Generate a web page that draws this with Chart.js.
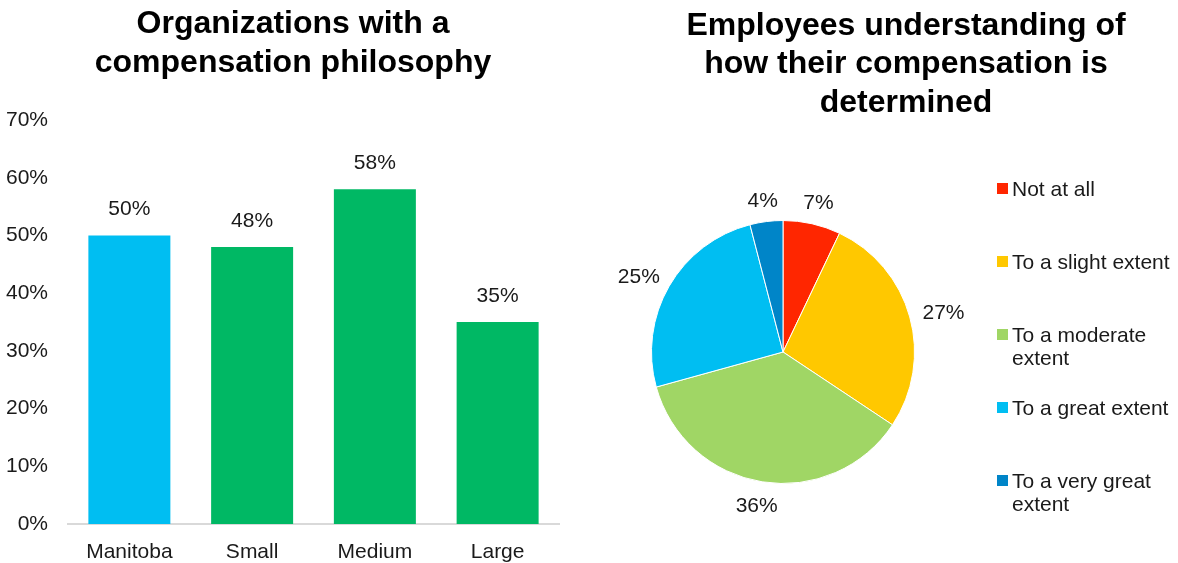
<!DOCTYPE html>
<html>
<head>
<meta charset="utf-8">
<title>Compensation philosophy</title>
<script src="https://cdn.jsdelivr.net/npm/chart.js@4.4.1/dist/chart.umd.min.js"></script>
<style>
  body { margin: 0; background: #fff; }
  #wrap { position: relative; width: 1178px; height: 563px; }
  canvas { position: absolute; top: 0; }
  #barChart { left: 0; }
  #pieChart { left: 590px; }
</style>
</head>
<body>
<div id="wrap">
  <canvas id="barChart" width="586" height="563"></canvas>
  <canvas id="pieChart" width="588" height="563"></canvas>
</div>
<script>
// organizations with a compensation philosophy (%)
const groups = ['Manitoba', 'Small', 'Medium', 'Large'];
const hasPhilosophy = [50, 48, 58, 35];
const groupColors = ['#00BEF2', '#00B864', '#00B864', '#00B864'];
const pctTicks = [0, 10, 20, 30, 40, 50, 60, 70];

// how well employees understand their compensation (%)
const extents = ['Not at all', 'To a slight extent', 'To a moderate extent', 'To a great extent', 'To a very great extent'];
const understanding = [7, 27, 36, 25, 4];
const extentColors = ['#FF2600', '#FFC800', '#A0D665', '#00BEF2', '#0085C8'];

Chart.defaults.font.family = '"Liberation Sans", Arial, sans-serif';
Chart.defaults.color = '#1a1a1a';
Chart.defaults.animation = false;

const textFont = '21px "Liberation Sans", Arial, sans-serif';

function wrapText(ctx, text, maxW) {
  const words = text.split(' ');
  const lines = [];
  let line = '';
  words.forEach(w => {
    const test = line ? line + ' ' + w : w;
    if (line && ctx.measureText(test).width > maxW) {
      lines.push(line);
      line = w;
    } else {
      line = test;
    }
  });
  lines.push(line);
  return lines;
}

// title spans from opts.left to the canvas edge, ignoring the padding
const wideTitle = {
  id: 'wideTitle',
  afterLayout(chart, args, opts) {
    const t = chart.titleBlock;
    if (!t) return;
    t.left = opts.left || 0;
    t.right = chart.width;
    t.width = t.right - t.left;
  }
};

// value above each bar
const barValues = {
  id: 'barValues',
  afterDatasetsDraw(chart) {
    const ctx = chart.ctx;
    const values = chart.data.datasets[0].data;
    ctx.save();
    ctx.font = textFont;
    ctx.fillStyle = '#1a1a1a';
    ctx.textAlign = 'center';
    ctx.textBaseline = 'alphabetic';
    chart.getDatasetMeta(0).data.forEach((bar, i) => {
      ctx.fillText(values[i] + '%', bar.x, bar.y - 20);
    });
    ctx.restore();
  }
};

// percentages just outside each slice
const pieValues = {
  id: 'pieValues',
  afterDatasetsDraw(chart) {
    const ctx = chart.ctx;
    const values = chart.data.datasets[0].data;
    ctx.save();
    ctx.font = textFont;
    ctx.fillStyle = '#1a1a1a';
    ctx.textAlign = 'center';
    ctx.textBaseline = 'middle';
    chart.getDatasetMeta(0).data.forEach((arc, i) => {
      const p = arc.getProps(['x', 'y', 'startAngle', 'endAngle', 'outerRadius'], true);
      const mid = (p.startAngle + p.endAngle) / 2;
      const text = values[i] + '%';
      const w = ctx.measureText(text).width;
      const r = p.outerRadius + 14;
      ctx.fillText(text, p.x + Math.cos(mid) * (r + w / 2), p.y + Math.sin(mid) * (r + 9) + 2);
    });
    ctx.restore();
  }
};

// legend to the right of the pie, long labels wrapped
const sideLegend = {
  id: 'sideLegend',
  afterDraw(chart, args, opts) {
    const ctx = chart.ctx;
    const area = chart.chartArea;
    const colors = chart.data.datasets[0].backgroundColor;
    const boxX = area.right + opts.gap;
    const textX = boxX + 15;
    const maxW = chart.width - textX;
    ctx.save();
    ctx.font = textFont;
    ctx.textAlign = 'left';
    ctx.textBaseline = 'middle';
    chart.data.labels.forEach((label, i) => {
      const y = area.top + opts.offsetY + i * opts.step;
      ctx.fillStyle = colors[i];
      ctx.fillRect(boxX, y - 7, 11, 11);
      ctx.fillStyle = '#1a1a1a';
      wrapText(ctx, label, maxW).forEach((line, k) => {
        ctx.fillText(line, textX, y + k * 23.5);
      });
    });
    ctx.restore();
  }
};

new Chart(document.getElementById('barChart'), {
  type: 'bar',
  data: {
    labels: groups,
    datasets: [{
      data: hasPhilosophy,
      backgroundColor: groupColors,
      barPercentage: 0.668,
      categoryPercentage: 1
    }]
  },
  options: {
    responsive: false,
    layout: { padding: { left: 0, right: 27, top: 0, bottom: 0 } },
    plugins: {
      legend: { display: false },
      tooltip: { enabled: false },
      title: {
        display: true,
        text: ['Organizations with a', 'compensation philosophy'],
        color: '#000',
        font: { size: 32, weight: 'bold', lineHeight: '38.5px' },
        padding: { top: 5, bottom: 38 }
      },
      wideTitle: { left: 0 }
    },
    scales: {
      x: {
        grid: { display: true, drawOnChartArea: false, drawTicks: false },
        border: { color: '#d9d9d9', width: 2 },
        ticks: { padding: 16, font: { size: 21 }, color: '#1a1a1a' },
        afterFit(s) { s.height = 39; }
      },
      y: {
        min: 0,
        max: 70,
        grid: { display: false, drawTicks: false },
        border: { display: false },
        ticks: { padding: 20, font: { size: 21 }, color: '#1a1a1a', callback: v => v + '%' },
        afterBuildTicks(s) { s.ticks = pctTicks.map(v => ({ value: v })); },
        afterFit(s) { s.width = 68; }
      }
    }
  },
  plugins: [wideTitle, barValues]
});

new Chart(document.getElementById('pieChart'), {
  type: 'pie',
  data: {
    labels: extents,
    datasets: [{
      data: understanding,
      backgroundColor: extentColors,
      borderColor: '#fff',
      borderWidth: 1
    }]
  },
  options: {
    responsive: false,
    layout: { padding: { left: 61, right: 263, top: 0, bottom: 79 } },
    plugins: {
      legend: { display: false },
      tooltip: { enabled: false },
      title: {
        display: true,
        text: ['Employees understanding of', 'how their compensation is', 'determined'],
        color: '#000',
        font: { size: 32, weight: 'bold', lineHeight: '38.5px' },
        padding: { top: 6.5, bottom: 98 }
      },
      wideTitle: { left: 44 },
      sideLegend: { gap: 82, offsetY: -30, step: 73 }
    }
  },
  plugins: [wideTitle, pieValues, sideLegend]
});
</script>
</body>
</html>
